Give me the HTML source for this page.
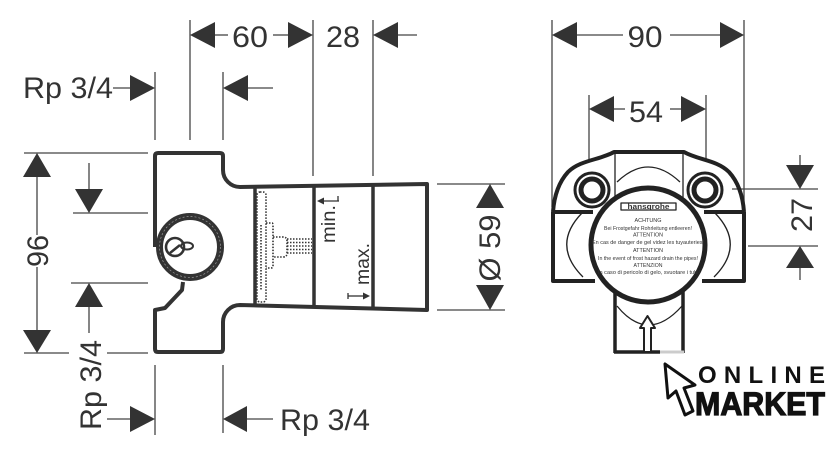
<!DOCTYPE html>
<html><head><meta charset="utf-8"><style>
html,body{margin:0;padding:0;background:#fff;}
svg{display:block;}
text{font-family:"Liberation Sans",sans-serif;fill:#333;}
</style></head><body>
<svg width="840" height="459" viewBox="0 0 840 459" xmlns="http://www.w3.org/2000/svg">
<g stroke="#444" stroke-width="1.3" fill="none">
<!-- left drawing top dims -->
<line x1="190" y1="20" x2="190" y2="140"/>
<line x1="313" y1="20" x2="313" y2="176"/>
<line x1="373" y1="20" x2="373" y2="176"/>
<line x1="215" y1="35" x2="228" y2="35"/>
<line x1="273" y1="35" x2="288" y2="35"/>
<line x1="398" y1="35" x2="417" y2="35"/>
<line x1="155" y1="72" x2="155" y2="140"/>
<line x1="223" y1="72" x2="223" y2="140"/>
<line x1="113" y1="88" x2="130" y2="88"/>
<line x1="248" y1="88" x2="273" y2="88"/>
<!-- left dims -->
<line x1="24" y1="153" x2="148" y2="153"/>
<line x1="73" y1="213" x2="148" y2="213"/>
<line x1="71" y1="283" x2="148" y2="283"/>
<line x1="24" y1="353" x2="69" y2="353"/>
<line x1="107" y1="353" x2="148" y2="353"/>
<line x1="37" y1="177" x2="37" y2="235"/>
<line x1="37" y1="267" x2="37" y2="330"/>
<line x1="89" y1="163" x2="89" y2="189"/>
<line x1="89" y1="307" x2="89" y2="333"/>
<!-- bottom dims -->
<line x1="155" y1="365" x2="155" y2="435"/>
<line x1="223" y1="365" x2="223" y2="433"/>
<line x1="107" y1="419" x2="130" y2="419"/>
<line x1="247" y1="419" x2="273" y2="419"/>
<!-- dia 59 -->
<line x1="437" y1="184" x2="505" y2="184"/>
<line x1="437" y1="310" x2="505" y2="310"/>
<!-- right drawing dims -->
<line x1="552" y1="20" x2="552" y2="207"/>
<line x1="744" y1="20" x2="744" y2="205"/>
<line x1="577" y1="35" x2="623" y2="35"/>
<line x1="670" y1="35" x2="720" y2="35"/>
<line x1="589" y1="95" x2="589" y2="162"/>
<line x1="706" y1="95" x2="706" y2="162"/>
<line x1="614" y1="109" x2="625" y2="109"/>
<line x1="670" y1="109" x2="681" y2="109"/>
<line x1="732" y1="189" x2="818" y2="189"/>
<line x1="748" y1="246" x2="818" y2="246"/>
<line x1="800" y1="155" x2="800" y2="165"/>
<line x1="800" y1="268" x2="800" y2="280"/>
</g>
<!-- arrowheads -->
<g fill="#333">
<polygon points="190,35 215,22 215,48"/>
<polygon points="313,35 288,22 288,48"/>
<polygon points="373,35 398,22 398,48"/>
<polygon points="155,88 130,75 130,101"/>
<polygon points="223,88 248,75 248,101"/>
<polygon points="37,153 23,177 51,177"/>
<polygon points="37,353 23,330 51,330"/>
<polygon points="89,213 75,189 103,189"/>
<polygon points="89,283 75,307 103,307"/>
<polygon points="155,419 130,406 130,432"/>
<polygon points="223,419 247,406 247,432"/>
<polygon points="490,184 476,208 504,208"/>
<polygon points="490,310 476,285 504,285"/>
<polygon points="552,35 577,22 577,48"/>
<polygon points="744,35 720,22 720,48"/>
<polygon points="589,109 614,96 614,122"/>
<polygon points="706,109 681,96 681,122"/>
<polygon points="800,189 786,165 814,165"/>
<polygon points="800,246 786,268 814,268"/>
</g>
<!-- dimension texts -->
<g font-size="30">
<text x="250" y="47" text-anchor="middle" textLength="36" lengthAdjust="spacingAndGlyphs">60</text>
<text x="343" y="47" text-anchor="middle" textLength="34" lengthAdjust="spacingAndGlyphs">28</text>
<text x="23" y="98" textLength="90" lengthAdjust="spacingAndGlyphs">Rp 3/4</text>
<text x="280" y="430" textLength="90" lengthAdjust="spacingAndGlyphs">Rp 3/4</text>
<text transform="translate(48,251) rotate(-90)" text-anchor="middle" textLength="32" lengthAdjust="spacingAndGlyphs">96</text>
<text transform="translate(101,385) rotate(-90)" text-anchor="middle" textLength="90" lengthAdjust="spacingAndGlyphs">Rp 3/4</text>
<text transform="translate(500,248) rotate(-90)" text-anchor="middle" textLength="67" lengthAdjust="spacingAndGlyphs">Ø 59</text>
<text x="645" y="47" text-anchor="middle" textLength="35" lengthAdjust="spacingAndGlyphs">90</text>
<text x="646" y="122" text-anchor="middle" textLength="34" lengthAdjust="spacingAndGlyphs">54</text>
<text transform="translate(812,215) rotate(-90)" text-anchor="middle" textLength="34" lengthAdjust="spacingAndGlyphs">27</text>
</g>
<!-- left body -->
<g stroke="#333" fill="none" stroke-linejoin="round">
<path stroke-width="4" d="M155,247 L155,156 Q155,153 158,153 L220,153 Q223,153 223,156 L223,170 A17 17 0 0 0 240,187 L427,184 L427,310 L240,305 A17 17 0 0 0 223,322 L223,349 Q223,352 220,352 L158,352 Q155,352 155,349 L155,310 L165,308 L182,290 L183,282"/>
<line x1="255" y1="188" x2="255" y2="305" stroke-width="3.5"/>
<line x1="314" y1="186" x2="314" y2="307" stroke-width="3.5"/>
<line x1="373" y1="185" x2="373" y2="308" stroke-width="3.5"/>
<circle cx="190" cy="247" r="30.5" stroke-width="7" fill="#fff"/>
<circle cx="190" cy="247" r="30.5" stroke="#999" stroke-width="0.7" stroke-dasharray="2 2"/>
<circle cx="175" cy="247" r="9" stroke-width="2.6"/>
<ellipse cx="187" cy="246" rx="6" ry="3.5" stroke-width="2"/>
<path d="M170,253 L180,245" stroke-width="2.5"/>
<!-- dotted internals -->
<g stroke-width="1.6" stroke-dasharray="1.5 1.5">
<rect x="257" y="192" width="9" height="110" rx="3"/>
<line x1="261" y1="225" x2="261" y2="290"/>
<path d="M266,223 L272,223 Q273,223 273,226 L273,266 Q273,268 271,268 L266,268"/>
<path d="M273,237 L283,237 Q287,237 287,241 L287,253 Q287,257 283,257 L273,257"/>
<line x1="287" y1="239" x2="312" y2="239"/>
<line x1="287" y1="242.5" x2="312" y2="242.5"/>
<line x1="287" y1="246" x2="312" y2="246"/>
<line x1="287" y1="249.5" x2="312" y2="249.5"/>
<line x1="287" y1="253" x2="312" y2="253"/>
</g>
<!-- min / max arrows -->
<g stroke-width="1.3">
<line x1="322" y1="201" x2="339" y2="201"/>
<line x1="338" y1="196" x2="338" y2="201"/>
<line x1="348" y1="296" x2="364" y2="296"/>
<line x1="348" y1="293" x2="348" y2="299"/>
</g>
</g>
<polygon points="317,201 324,197.5 324,204.5" fill="#333"/>
<polygon points="370,296 363,292.5 363,299.5" fill="#333"/>
<text transform="translate(335,224) rotate(-90)" text-anchor="middle" font-size="19" textLength="38" lengthAdjust="spacingAndGlyphs">min.</text>
<text transform="translate(369,264) rotate(-90)" text-anchor="middle" font-size="19" textLength="42" lengthAdjust="spacingAndGlyphs">max.</text>

<!-- right body -->
<g stroke="#222" fill="none" stroke-linejoin="round">
<line x1="615" y1="152" x2="615" y2="200" stroke-width="1.3"/>
<line x1="683" y1="152" x2="683" y2="200" stroke-width="1.3"/>
<path d="M617,182 Q648,152 680,182" stroke-width="1.3"/>
<path d="M582,213 Q551,245 583,277" stroke-width="1.3"/>
<path d="M715,213 Q746,245 714,277" stroke-width="1.3"/>
<path stroke-width="4" d="M553,212 L553,281 L595,281 M553,212 L593,212 M744,212 L744,281 L702,281 M744,212 L704,212"/>
<path stroke-width="4" d="M553,212 C554,198 558,183 568,172 C580,160 600,160 614,152 L684,152 C698,160 717,160 729,172 C739,183 743,198 744,212"/>
<!-- bottom stub -->
<path d="M617,306 Q648,344 682,306" stroke-width="1.3"/>
<line x1="615" y1="290" x2="615" y2="353" stroke-width="3.5"/>
<line x1="683" y1="290" x2="683" y2="353" stroke-width="3.5"/>
<line x1="614" y1="352" x2="660" y2="352" stroke-width="3.5"/>
<line x1="660" y1="352" x2="684" y2="352" stroke="#ccc" stroke-width="3"/>
<!-- big circle -->
<circle cx="648" cy="245" r="57" stroke-width="5" fill="#fff"/>
<!-- rings -->
<circle cx="592" cy="190" r="17" stroke-width="3" fill="#fff"/>
<circle cx="592" cy="190" r="11" stroke-width="5"/>
<circle cx="705" cy="190" r="17" stroke-width="3" fill="#fff"/>
<circle cx="705" cy="190" r="11" stroke-width="5"/>
<!-- hollow arrow -->
<path d="M647.5,316 L655,328 L651,328 L651,352 L644,352 L644,328 L640,328 Z" fill="#fff" stroke-width="2"/>
<rect x="621" y="203" width="55" height="7" stroke-width="1.3" fill="#fff"/>
</g>
<text x="648.5" y="209.2" text-anchor="middle" font-size="7" font-weight="bold" textLength="42" lengthAdjust="spacingAndGlyphs">hansgrohe</text>
<g font-size="5.5" text-anchor="middle">
<text x="648" y="222" textLength="27" lengthAdjust="spacingAndGlyphs">ACHTUNG</text>
<text x="648" y="230" textLength="88" lengthAdjust="spacingAndGlyphs">Bei Frostgefahr Rohrleitung entleeren!</text>
<text x="648" y="236.5" textLength="30" lengthAdjust="spacingAndGlyphs">ATTENTION</text>
<text x="648" y="244" textLength="112" lengthAdjust="spacingAndGlyphs">En cas de danger de gel videz les tuyauteries!</text>
<text x="648" y="252" textLength="30" lengthAdjust="spacingAndGlyphs">ATTENTION</text>
<text x="648" y="260" textLength="100" lengthAdjust="spacingAndGlyphs">In the event of frost hazard drain the pipes!</text>
<text x="648" y="267" textLength="29" lengthAdjust="spacingAndGlyphs">ATTENZION</text>
<text x="649" y="274" textLength="102" lengthAdjust="spacingAndGlyphs">In caso di pericolo di gelo, svuotare i tubi!</text>
</g>

<!-- logo -->
<path d="M665,364 L668,398 L676,391 L685,415 L693,411 L684,388 L695,385 Z" fill="#fff" stroke="#111" stroke-width="3" stroke-linejoin="round"/>
<text x="698" y="383" font-size="24" font-weight="bold" textLength="127" lengthAdjust="spacing" style="fill:#111">ONLINE</text>
<text x="695" y="415" font-size="32" font-weight="bold" textLength="130" lengthAdjust="spacingAndGlyphs" style="fill:#111;stroke:#111;stroke-width:1.2">MARKET</text>
</svg>
</body></html>
